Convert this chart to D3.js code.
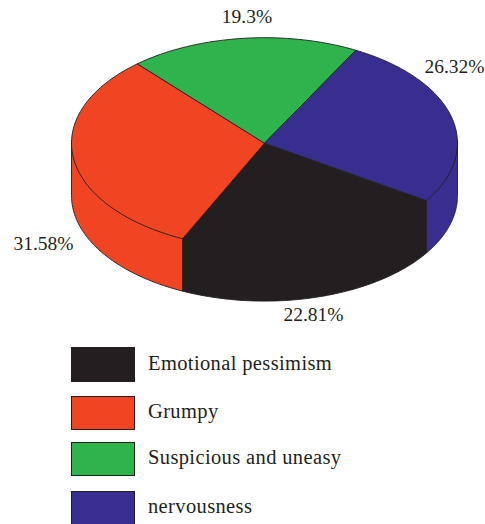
<!DOCTYPE html>
<html><head><meta charset="utf-8">
<script src="https://cdn.jsdelivr.net/npm/d3@7"></script>
<style>html,body{margin:0;padding:0;background:#fff}svg{display:block}text{font-family:"Liberation Serif",serif;fill:#231f20;font-size:19.5px}text.lg{font-size:20.5px;letter-spacing:.37px}</style>
</head><body><svg id="c" width="485" height="524"></svg>
<script>
const categories = ["Emotional pessimism","Grumpy","Suspicious and uneasy","nervousness"];
const values = [22.81,31.58,19.3,26.32];
const labels = ["22.81%","31.58%","19.3%","26.32%"];
const colors = ["#231f20","#f04423","#2fb34c","#382e8f"];
const labelX = [313.5,43.5,247,454.5];
const labelY = [321,250,23,73];
const legendY = [347,396,442,491];
const legendH = [35,34,34,34];
const legendTextY = [370,418,464,513];

const cx=264.5, cy=143.2, rx=193, ry=105.5, depth=52.4;
const start = 123*Math.PI/180;
const svg=d3.select("#c");
const px=d3.scaleLinear().domain([-1,1]).range([cx-rx,cx+rx]);
const py=d3.scaleLinear().domain([-1,1]).range([cy-ry,cy+ry]);
const arcs=d3.pie().sort(null).value(d=>d).startAngle(start).endAngle(start+2*Math.PI)(values);
const line=d3.line().x(d=>d[0]).y(d=>d[1]);
const pt=(a,dz=0)=>[px(Math.sin(a)),py(-Math.cos(a))+dz];
const samples=(a0,a1)=>d3.range(0,81).map(i=>a0+(a1-a0)*i/80);

// side walls (front half only); their upper edge tucks under the top face to avoid a seam
arcs.forEach((d,i)=>{
  const ranges=[[Math.max(d.startAngle,Math.PI/2),Math.min(d.endAngle,1.5*Math.PI)],
                [Math.max(d.startAngle,2.5*Math.PI),Math.min(d.endAngle,3.5*Math.PI)]];
  ranges.forEach(([a0,a1])=>{
    if(a1<=a0) return;
    const s=samples(a0,a1);
    svg.append("path").attr("d",line([...s.map(a=>pt(a,-3)),...s.slice().reverse().map(a=>pt(a,depth))])+"Z")
      .attr("fill",colors[i]).attr("stroke","#231f20").attr("stroke-width",0.9).attr("stroke-linejoin","round");
  });
});
// top face
arcs.forEach((d,i)=>{
  const s=samples(d.startAngle,d.endAngle);
  svg.append("path").attr("d",line([[cx,cy],...s.map(a=>pt(a))])+"Z")
    .attr("fill",colors[i]).attr("stroke","#231f20").attr("stroke-width",0.9).attr("stroke-linejoin","round");
});
labels.forEach((t,i)=>svg.append("text").attr("x",labelX[i]).attr("y",labelY[i]).attr("text-anchor","middle").text(t));
categories.forEach((t,i)=>{
  svg.append("rect").attr("x",71.5).attr("y",legendY[i]+.5).attr("width",63).attr("height",legendH[i]-1)
    .attr("fill",colors[i]).attr("stroke","#231f20").attr("stroke-width",1);
  svg.append("text").attr("class","lg").attr("x",148).attr("y",legendTextY[i]).text(t);
});
</script></body></html>
